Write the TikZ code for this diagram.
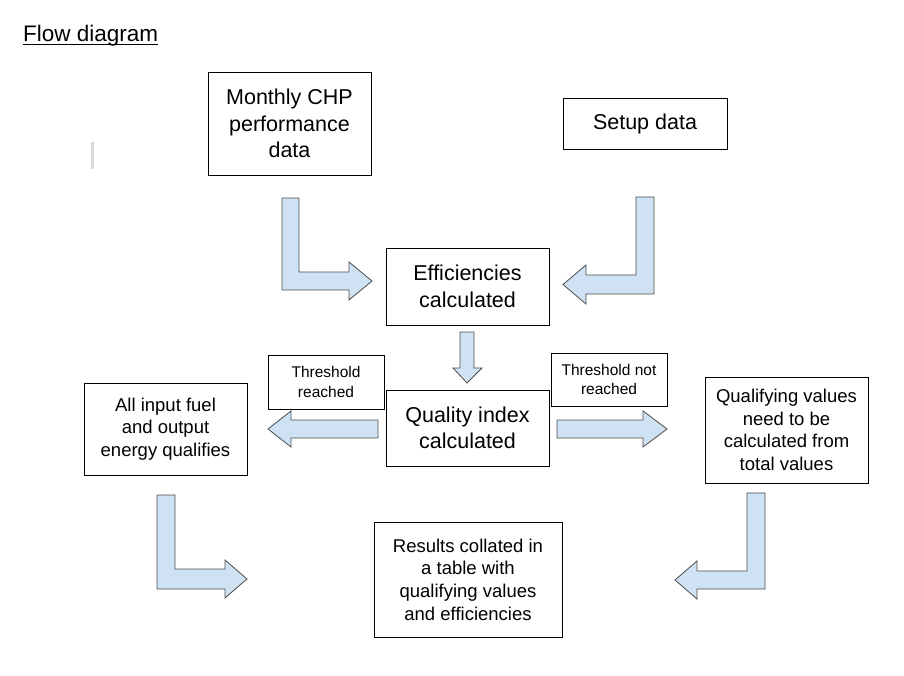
\documentclass[tikz,border=0pt]{standalone}
\usepackage{fontspec}
\setmainfont{Liberation Sans}
\definecolor{arrowblue}{RGB}{207,226,243}
\begin{document}
\begin{tikzpicture}[x=1pt, y=-1pt,
    box/.style={draw, line width=0.9pt, align=center, inner sep=0pt},
    bigtext/.style={font=\fontsize{21.5}{26.5}\selectfont},
    smalltext/.style={font=\fontsize{18.5}{22.7}\selectfont},
    labeltext/.style={font=\fontsize{15.5}{19.5}\selectfont},
    blockarrow/.style={draw=black!70, fill=arrowblue, line width=0.8pt, line join=miter}]
  \useasboundingbox (0,0) rectangle (904,676);
  \node[anchor=base west, font=\fontsize{22.5}{27}\selectfont, inner sep=0pt] (title) at (23,42) {Flow diagram};
  \draw[line width=0.9pt] ([yshift=-2.5pt]title.base west) -- ([yshift=-2.5pt]title.base east);
  \fill[black!15] (91,142) rectangle (94,169);
  \node[box, bigtext, minimum width=163pt, minimum height=103pt] (monthly) at (289.5,123.5) {Monthly CHP\\performance\\data};
  \node[box, bigtext, minimum width=164pt, minimum height=51pt] (setup) at (645,123.5) {Setup data};
  \node[box, bigtext, minimum width=163pt, minimum height=77pt] (effic) at (467.5,286.5) {Efficiencies\\calculated};
  \node[box, bigtext, minimum width=163pt, minimum height=76pt] (quality) at (467.5,428) {Quality index\\calculated};
  \node[box, labeltext, minimum width=116pt, minimum height=54pt] (reached) at (326,382) {Threshold\\reached};
  \node[box, labeltext, minimum width=116pt, minimum height=53pt] (notreached) at (609,379.5) {Threshold not\\reached};
  \node[box, smalltext, minimum width=163pt, minimum height=92pt] (allfuel) at (165.5,429) {All input fuel\\and output\\energy qualifies};
  \node[box, smalltext, minimum width=163pt, minimum height=106pt] (qualvals) at (786.5,430) {Qualifying values\\need to be\\calculated from\\total values};
  \node[box, smalltext, minimum width=188pt, minimum height=115pt] (results) at (468,579.5) {Results collated in\\a table with\\qualifying values\\and efficiencies};
  \draw[blockarrow] (282,198) -- (299,198) -- (299,272) -- (349,272) -- (349,262) -- (372,281) -- (349,300) -- (349,290) -- (282,290) -- cycle;
  \draw[blockarrow] (654,197) -- (654,294) -- (586,294) -- (586,304) -- (563,284.5) -- (586,265) -- (586,275) -- (636,275) -- (636,197) -- cycle;
  \draw[blockarrow] (460,332) -- (474,332) -- (474,368) -- (482,368) -- (467,383) -- (453,368) -- (460,368) -- cycle;
  \draw[blockarrow] (378,420) -- (378,438) -- (291,438) -- (291,447) -- (268,429) -- (291,411) -- (291,420) -- cycle;
  \draw[blockarrow] (557,420) -- (643,420) -- (643,411) -- (667,429) -- (643,447) -- (643,438) -- (557,438) -- cycle;
  \draw[blockarrow] (157,495) -- (175,495) -- (175,569) -- (225,569) -- (225,560) -- (247,579) -- (225,598) -- (225,589) -- (157,589) -- cycle;
  \draw[blockarrow] (765,493) -- (765,589) -- (697,589) -- (697,599) -- (675,580) -- (697,561) -- (697,571) -- (747,571) -- (747,493) -- cycle;
\end{tikzpicture}
\end{document}
